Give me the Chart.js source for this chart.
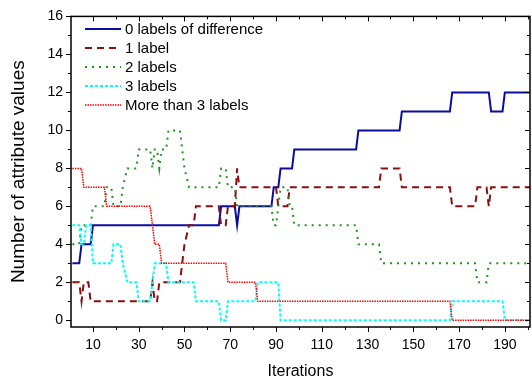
<!DOCTYPE html>
<html><head><meta charset="utf-8">
<script src="https://cdn.jsdelivr.net/npm/chart.js@4/dist/chart.umd.min.js"></script>
<style>html,body{margin:0;padding:0;background:#fff}</style>
</head><body>
<canvas id="c" width="532" height="383"></canvas>
<script>
// ---- data (iteration, value) breakpoints ----
const seriesNames = ["0 labels of difference", "1 label", "2 labels", "3 labels", "More than 3 labels"];
const zeroLabels = [[1,3],[4,3],[5,4],[9,4],[10,5],[65,5],[66,6],[72,6],[73,5],[74,6],[88,6],[89,7],[91,7],[92,8],[97,8],[98,9],[125,9],[126,10],[144,10],[145,11],[166,11],[167,12],[183,12],[184,11],[189,11],[190,12],[201,12]];
const oneLabel = [[1,2],[4,2],[5,1],[6,2],[8,2],[9,1],[35,1],[36,2],[37,1],[38,1],[39,2],[48,2],[49,3],[50,4],[52,5],[54,5],[55,6],[65,6],[66,5],[68,5],[69,6],[72,6],[73,8],[74,7],[90,7],[91,6],[95,6],[96,7],[135,7],[136,8],[144,8],[145,7],[166,7],[167,6],[177,6],[178,7],[182,7],[183,6],[184,7],[201,7]];
const twoLabels = [[1,4],[4,4],[5,5],[9,5],[10,6],[15,6],[16,7],[18,7],[19,6],[22,6],[23,7],[25,8],[29,8],[30,9],[35,9],[36,8],[37,9],[38,9],[39,8],[40,9],[42,9],[43,10],[48,10],[49,9],[50,8],[52,7],[65,7],[66,8],[68,8],[69,7],[72,7],[73,6],[88,6],[89,5],[90,5],[91,6],[92,7],[95,7],[96,6],[97,6],[98,5],[125,5],[126,4],[135,4],[136,3],[177,3],[178,2],[182,2],[183,3],[201,3]];
const threeLabels = [[1,5],[4,5],[5,4],[6,4],[7,5],[9,5],[10,3],[18,3],[19,4],[22,4],[23,3],[25,2],[29,2],[30,1],[35,1],[36,2],[37,3],[42,3],[43,2],[54,2],[55,1],[65,1],[66,0],[68,0],[69,1],[81,1],[82,2],[91,2],[92,0],[166,0],[167,1],[189,1],[190,0],[201,0]];
const moreLabels = [[1,8],[5,8],[6,7],[15,7],[16,6],[35,6],[36,5],[37,4],[39,4],[40,3],[68,3],[69,2],[81,2],[82,1],[166,1],[167,0],[201,0]];
const xTickLabels = [10,30,50,70,90,110,130,150,170,190];
const xMinorTicks = [20,40,60,80,100,120,140,160,180,200];
const yTickLabels = [0,2,4,6,8,10,12,14,16];
const yMinorTicks = [1,3,5,7,9,11,13,15];

const styles = [
  {color:'#0c0c9e', width:2, dash:[]},
  {color:'#8a0f0f', width:2, dash:[7,5]},
  {color:'#229322', width:2, dash:[2,5]},
  {color:'#00ffff', width:2, dash:[3,2]},
  {color:'#ff0000', width:1.5, dash:[1.5,1]}
];
const allSeries = [zeroLabels, oneLabel, twoLabels, threeLabels, moreLabels];
const FONT = "'Liberation Sans', Arial, sans-serif";

const framePlugin = {
  id: 'frame',
  afterDatasetsDraw(chart) {
    const {ctx, chartArea: a, scales: {x, y}} = chart;
    ctx.save();
    ctx.strokeStyle = '#000';
    ctx.lineWidth = 1.5;
    ctx.strokeRect(a.left, a.top, a.right - a.left, a.bottom - a.top);
    ctx.lineWidth = 1;
    ctx.beginPath();
    const tick = (x1, y1, x2, y2) => { ctx.moveTo(x1, y1); ctx.lineTo(x2, y2); };
    yTickLabels.forEach(v => { const p = Math.round(y.getPixelForValue(v)) + 0.5;
      tick(a.left - 5, p, a.left, p); tick(a.right, p, a.right - 5, p); });
    yMinorTicks.forEach(v => { const p = Math.round(y.getPixelForValue(v)) + 0.5;
      tick(a.left - 3, p, a.left, p); tick(a.right, p, a.right - 3, p); });
    xTickLabels.forEach(v => { const p = Math.round(x.getPixelForValue(v)) + 0.5;
      tick(p, a.bottom, p, a.bottom + 5); tick(p, a.top, p, a.top + 5); });
    xMinorTicks.forEach(v => { const p = Math.round(x.getPixelForValue(v)) + 0.5;
      tick(p, a.bottom, p, a.bottom + 3); tick(p, a.top, p, a.top + 3); });
    ctx.stroke();
    ctx.restore();
  }
};

const legendPlugin = {
  id: 'insideLegend',
  afterDraw(chart) {
    const {ctx, chartArea: a} = chart;
    ctx.save();
    ctx.font = '15px ' + FONT;
    ctx.textBaseline = 'middle';
    ctx.fillStyle = '#000';
    seriesNames.forEach((name, i) => {
      const yy = a.top + 12.5 + i * 19;
      const s = styles[i];
      ctx.strokeStyle = s.color; ctx.lineWidth = s.width; ctx.setLineDash(s.dash);
      ctx.beginPath(); ctx.moveTo(a.left + 14, yy); ctx.lineTo(a.left + 50, yy); ctx.stroke();
      ctx.setLineDash([]);
      ctx.fillText(name, a.left + 54, yy + 0.5);
    });
    ctx.restore();
  }
};

new Chart(document.getElementById('c'), {
  type: 'line',
  data: {
    datasets: allSeries.map((arr, i) => ({
      label: seriesNames[i],
      data: arr.map(p => ({x: p[0], y: p[1]})),
      borderColor: styles[i].color,
      borderWidth: styles[i].width,
      borderDash: styles[i].dash,
      pointRadius: 0,
      tension: 0,
      fill: false,
      order: 5 - i
    }))
  },
  options: {
    responsive: false,
    animation: false,
    layout: {padding: {top: 16, right: 2, left: 0, bottom: 0}},
    plugins: {legend: {display: false}, tooltip: {enabled: false}},
    scales: {
      x: {
        type: 'linear', min: 0.4, max: 201,
        afterBuildTicks: s => { s.ticks = xTickLabels.map(v => ({value: v})); },
        afterFit: s => { s.height = 56; },
        grid: {display: false, drawTicks: false},
        border: {display: false},
        ticks: {font: {family: FONT, size: 14}, color: '#000', padding: 10, maxRotation: 0, autoSkip: false},
        title: {display: true, text: 'Iterations', font: {family: FONT, size: 16}, color: '#000', padding: {top: 0, bottom: 2}}
      },
      y: {
        type: 'linear', min: -0.35, max: 16,
        afterBuildTicks: s => { s.ticks = yTickLabels.map(v => ({value: v})); },
        afterFit: s => { s.width = 71; },
        grid: {display: false, drawTicks: false},
        border: {display: false},
        ticks: {font: {family: FONT, size: 14}, color: '#000', padding: 8, autoSkip: false},
        title: {display: true, text: 'Number of attribute values', font: {family: FONT, size: 19}, color: '#000', padding: {top: 7, bottom: 0}}
      }
    }
  },
  plugins: [framePlugin, legendPlugin]
});
</script>
</body></html>
